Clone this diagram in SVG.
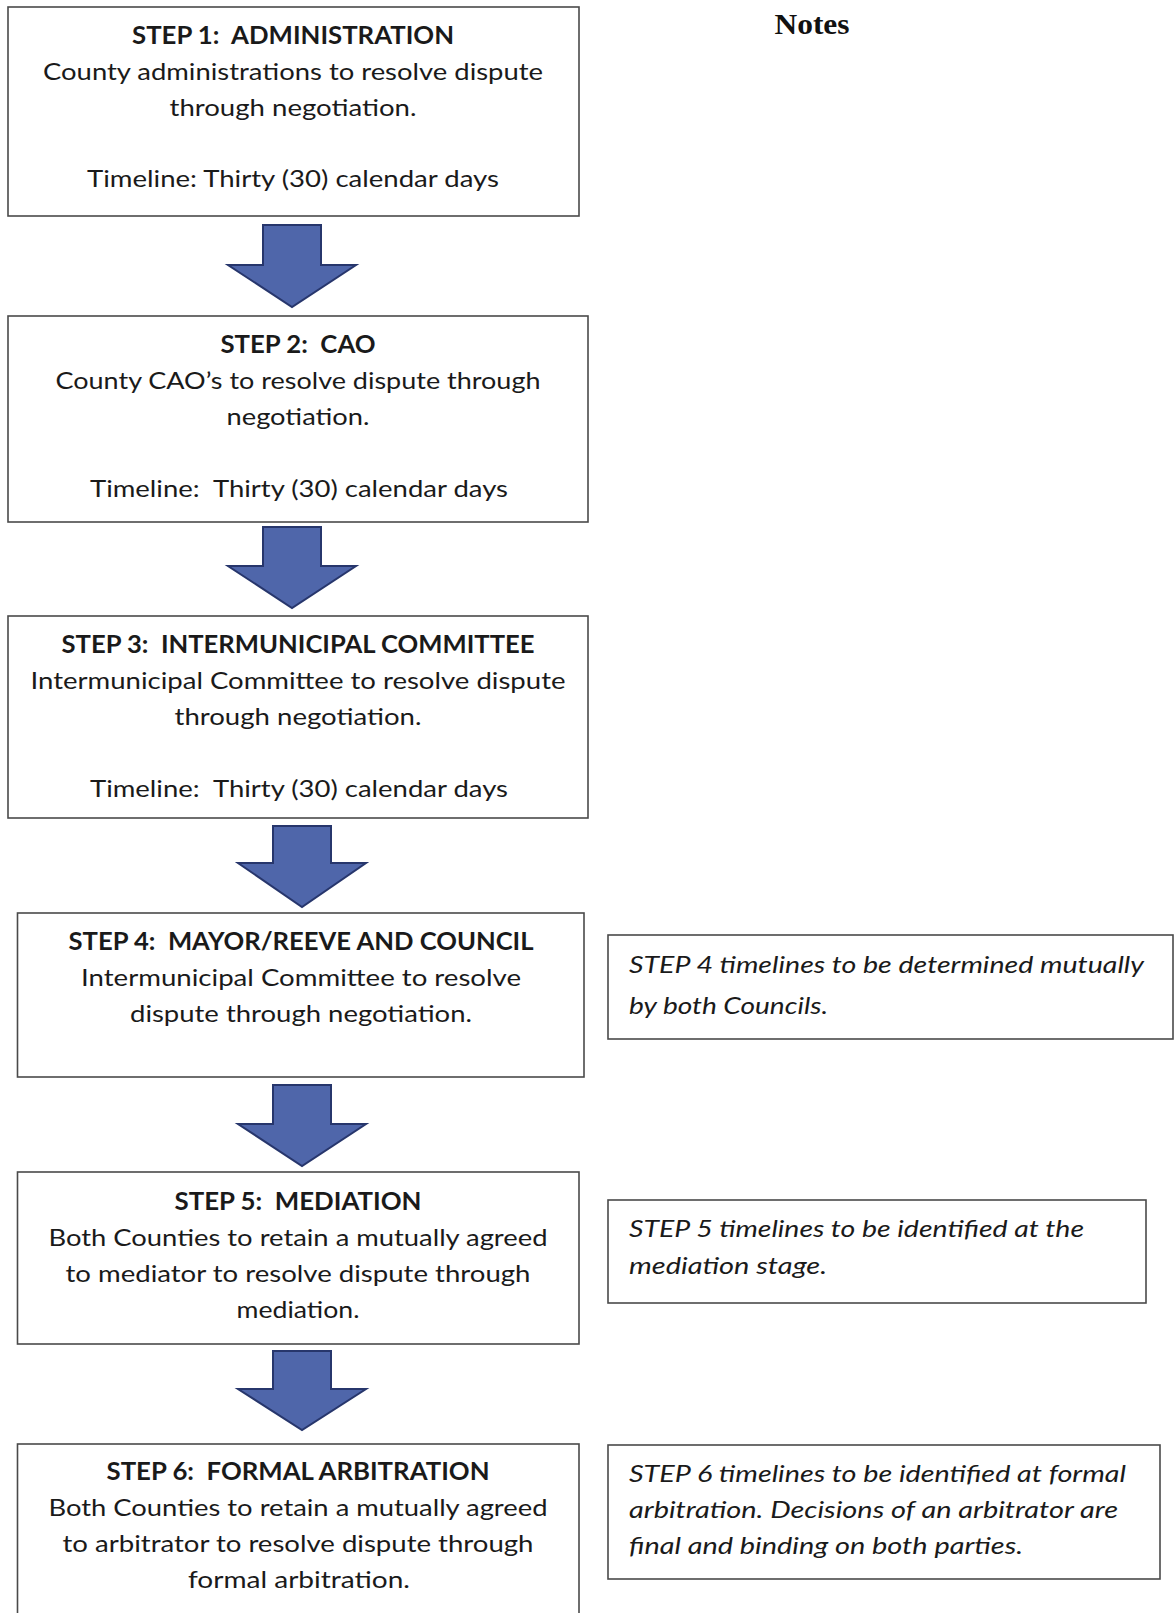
<svg xmlns="http://www.w3.org/2000/svg" width="1175" height="1613" viewBox="0 0 1175 1613" xml:space="preserve">
<style>
.box{fill:#fff;stroke:#4a4a4a;stroke-width:1.6}
.t{font-family:Lato,"Open Sans","Liberation Sans",sans-serif;font-size:24px;fill:#1a1a1a;text-anchor:middle;white-space:pre}
.h{font-weight:bold}
.n{font-family:Lato,"Open Sans","Liberation Sans",sans-serif;font-size:24px;font-style:italic;fill:#1a1a1a;white-space:pre}
.arr{fill:#4f66aa;stroke:#27366c;stroke-width:2;stroke-linejoin:miter}
.title{font-family:"Liberation Serif","Times New Roman",serif;font-weight:bold;font-size:29px;fill:#111;text-anchor:middle}
</style>
<rect width="1175" height="1613" fill="#fff"/>
<text class="title" x="812" y="34" textLength="75" lengthAdjust="spacingAndGlyphs">Notes</text>

<g id="connectors">
<path class="arr" d="M263,225 H321 V265 H356 L292,307 L228,265 H263 Z"/>
<path class="arr" d="M263,527 H321 V566 H356 L292,608 L228,566 H263 Z"/>
<path class="arr" d="M273,826 H331 V863 H366 L302,907 L238,863 H273 Z"/>
<path class="arr" d="M273,1085 H331 V1124 H366 L302,1166 L238,1124 H273 Z"/>
<path class="arr" d="M273,1351 H331 V1389 H366 L302,1430 L238,1389 H273 Z"/>
</g>

<g id="step1">
<rect class="box" x="8" y="7" width="571" height="209"/>
<text class="t h" x="293" y="44" textLength="322" lengthAdjust="spacingAndGlyphs">STEP 1:  ADMINISTRATION</text>
<text class="t" x="293" y="80" textLength="500" lengthAdjust="spacingAndGlyphs">County administrations to resolve dispute</text>
<text class="t" x="293" y="116" textLength="247" lengthAdjust="spacingAndGlyphs">through negotiation.</text>
<text class="t" x="293" y="187" textLength="412" lengthAdjust="spacingAndGlyphs">Timeline: Thirty (30) calendar days</text>
</g>

<g id="step2">
<rect class="box" x="8" y="316" width="580" height="206"/>
<text class="t h" x="298" y="353" textLength="155" lengthAdjust="spacingAndGlyphs">STEP 2:  CAO</text>
<text class="t" x="298" y="389" textLength="485" lengthAdjust="spacingAndGlyphs">County CAO’s to resolve dispute through</text>
<text class="t" x="298" y="425" textLength="143" lengthAdjust="spacingAndGlyphs">negotiation.</text>
<text class="t" x="299" y="497" textLength="418" lengthAdjust="spacingAndGlyphs">Timeline:  Thirty (30) calendar days</text>
</g>

<g id="step3">
<rect class="box" x="8" y="616" width="580" height="202"/>
<text class="t h" x="298" y="653" textLength="473" lengthAdjust="spacingAndGlyphs">STEP 3:  INTERMUNICIPAL COMMITTEE</text>
<text class="t" x="298" y="689" textLength="535" lengthAdjust="spacingAndGlyphs">Intermunicipal Committee to resolve dispute</text>
<text class="t" x="298" y="725" textLength="247" lengthAdjust="spacingAndGlyphs">through negotiation.</text>
<text class="t" x="299" y="797" textLength="418" lengthAdjust="spacingAndGlyphs">Timeline:  Thirty (30) calendar days</text>
</g>

<g id="step4">
<rect class="box" x="17.5" y="913" width="566.5" height="164"/>
<text class="t h" x="301" y="950" textLength="465" lengthAdjust="spacingAndGlyphs">STEP 4:  MAYOR/REEVE AND COUNCIL</text>
<text class="t" x="301" y="986" textLength="440" lengthAdjust="spacingAndGlyphs">Intermunicipal Committee to resolve</text>
<text class="t" x="301" y="1022" textLength="342" lengthAdjust="spacingAndGlyphs">dispute through negotiation.</text>
</g>

<g id="note4">
<rect class="box" x="608" y="935" width="565" height="104"/>
<text class="n" x="629" y="973" textLength="515" lengthAdjust="spacingAndGlyphs">STEP 4 timelines to be determined mutually</text>
<text class="n" x="629" y="1014" textLength="199" lengthAdjust="spacingAndGlyphs">by both Councils.</text>
</g>

<g id="step5">
<rect class="box" x="17.5" y="1172" width="561.5" height="172"/>
<text class="t h" x="298" y="1210" textLength="247" lengthAdjust="spacingAndGlyphs">STEP 5:  MEDIATION</text>
<text class="t" x="298" y="1246" textLength="499" lengthAdjust="spacingAndGlyphs">Both Counties to retain a mutually agreed</text>
<text class="t" x="298" y="1282" textLength="465" lengthAdjust="spacingAndGlyphs">to mediator to resolve dispute through</text>
<text class="t" x="298" y="1318" textLength="123" lengthAdjust="spacingAndGlyphs">mediation.</text>
</g>

<g id="note5">
<rect class="box" x="608" y="1200" width="538" height="103"/>
<text class="n" x="629" y="1237" textLength="455" lengthAdjust="spacingAndGlyphs">STEP 5 timelines to be identified at the</text>
<text class="n" x="629" y="1274" textLength="198" lengthAdjust="spacingAndGlyphs">mediation stage.</text>
</g>

<g id="step6">
<rect class="box" x="17.5" y="1444" width="561.5" height="190"/>
<text class="t h" x="298" y="1480" textLength="383" lengthAdjust="spacingAndGlyphs">STEP 6:  FORMAL ARBITRATION</text>
<text class="t" x="298" y="1516" textLength="499" lengthAdjust="spacingAndGlyphs">Both Counties to retain a mutually agreed</text>
<text class="t" x="298" y="1552" textLength="471" lengthAdjust="spacingAndGlyphs">to arbitrator to resolve dispute through</text>
<text class="t" x="299" y="1588" textLength="222" lengthAdjust="spacingAndGlyphs">formal arbitration.</text>
</g>

<g id="note6">
<rect class="box" x="608" y="1445" width="552" height="134"/>
<text class="n" x="629" y="1482" textLength="497" lengthAdjust="spacingAndGlyphs">STEP 6 timelines to be identified at formal</text>
<text class="n" x="629" y="1518" textLength="489" lengthAdjust="spacingAndGlyphs">arbitration. Decisions of an arbitrator are</text>
<text class="n" x="629" y="1554" textLength="394" lengthAdjust="spacingAndGlyphs">final and binding on both parties.</text>
</g>
</svg>
